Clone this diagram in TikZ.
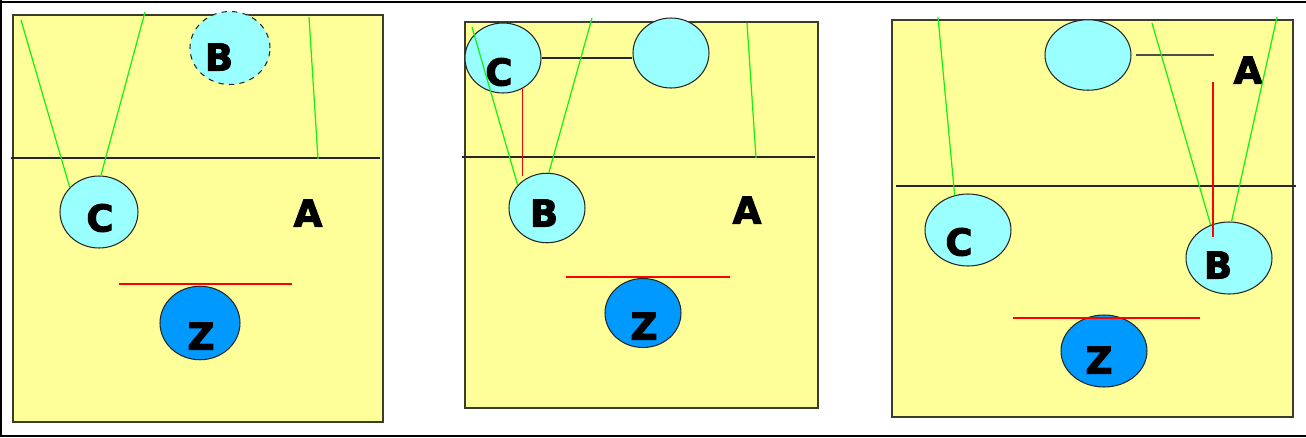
\documentclass[tikz,border=0pt]{standalone}
\usepackage{tikz}
\usepackage{fontspec}
\usetikzlibrary{shapes.geometric}
\newfontfamily\heavy[FakeBold=3]{DejaVu Sans Bold}
\definecolor{courtyellow}{RGB}{255,255,153}
\definecolor{courtedge}{RGB}{60,60,40}
\definecolor{aqua}{RGB}{153,255,255}
\definecolor{zblue}{RGB}{0,153,255}
\definecolor{sight}{RGB}{20,240,20}
\tikzset{
  court/.style={draw=courtedge,line width=1.1pt,fill=courtyellow},
  net/.style={draw=black!85,line width=0.7pt},
  player/.style={ellipse,draw=black!85,line width=0.6pt,fill=aqua,inner sep=0pt},
  blocker/.style={player,fill=zblue},
  pA/.style={minimum width=1.6cm,minimum height=1.46cm},
  pB/.style={minimum width=1.52cm,minimum height=1.4cm},
  pC/.style={minimum width=1.72cm,minimum height=1.44cm},
  tag/.style={inner sep=0pt,font=\heavy\fontsize{21}{21}\selectfont},
  sightline/.style={draw=sight,line width=0.7pt},
  blockline/.style={draw=red,line width=0.6pt},
}

\begin{document}
\begin{tikzpicture}[x=0.02cm,y=-0.02cm]
\useasboundingbox (0,0) rectangle (1306,437);

% frame
\draw[line width=1.7pt] (0,2) -- (1306,2);
\draw[line width=1.2pt] (0.6,0) -- (0.6,437);
\draw[line width=0.9pt] (0,436) -- (1306,436);

% first court:
\path[court] (13,15) rectangle (383,422);
\draw[net] (11,158) -- (380,158);
\node[player,pA,dashed] (b1) at (230,48) {};
\node[tag] (b1t) at (219,57) {B};
\node[player,pA,minimum width=1.56cm,minimum height=1.44cm] (c1) at (99,212) {};
\node[tag] (c1t) at (100,218) {C};
\node[tag] (a1t) at (308,213) {A};
\node[blocker,pA,minimum height=1.47cm] (z1) at (200,323) {};
\node[tag] (z1t) at (201,336) {Z};
\coordinate (g1a) at (21,20);
\coordinate (g1b) at (145,12);
\coordinate (g1c) at (309,17);
\coordinate (g1d) at (318,159);
\coordinate (r1a) at (119,284);
\coordinate (r1b) at (292,284);
\draw[sightline] (g1a) -- (c1.140);
\draw[sightline] (g1b) -- (c1.87);
\draw[sightline] (g1c) -- (g1d);
\draw[blockline] (r1a) -- (r1b);

% second court:
\path[court] (465,22) rectangle (818,408);
\draw[net] (462,157) -- (815,157);
\node[player,pB] (c2) at (503,58) {};
\node[tag] (c2t) at (499,72) {C};
\node[player,pB] (x2) at (671,53) {};
\node[player,pB,minimum height=1.39cm] (b2) at (547,208) {};
\node[tag] (b2t) at (544,213) {B};
\node[tag] (a2t) at (747,210) {A};
\node[blocker,pB,minimum height=1.38cm] (z2) at (643,313) {};
\node[tag] (z2t) at (644,326) {Z};
\coordinate (g2a) at (472,27);
\coordinate (g2b) at (592,18);
\coordinate (g2c) at (747,23);
\coordinate (g2d) at (756,158);
\coordinate (r2a) at (566,277);
\coordinate (r2b) at (730,277);
\draw[net] (c2.east) -- (c2.east -| x2.west);
\draw[sightline] (g2a) -- (b2.142);
\draw[sightline] (g2b) -- (b2.87);
\draw[sightline] (g2c) -- (g2d);
\draw[blockline] (c2.-57) -- ++(0,88);
\draw[blockline] (r2a) -- (r2b);

% third court:
\path[court] (892,20) rectangle (1293,417);
\draw[net] (896,186) -- (1296,186);
\node[player,pC,minimum height=1.41cm] (x3) at (1088,55) {};
\node[tag] (a3t) at (1248,70) {A};
\node[player,pC] (c3) at (968,230) {};
\node[tag] (c3t) at (959,242) {C};
\node[player,pC] (b3) at (1229,258) {};
\node[tag] (b3t) at (1218,265) {B};
\node[blocker,pC] (z3) at (1104,351) {};
\node[tag] (z3t) at (1099,360) {Z};
\coordinate (g3a) at (938,17);
\coordinate (g3b) at (1152,23);
\coordinate (g3c) at (1277,17);
\coordinate (r3a) at (1213,82);
\coordinate (r3b) at (1213,237);
\coordinate (r3c) at (1013,318);
\coordinate (r3d) at (1200,318);
\draw[draw=black!70,line width=0.8pt] ([xshift=0.09cm]x3.east) -- ++(78,0);
\draw[sightline] (g3a) -- (c3.111);
\draw[sightline] (g3b) -- (b3.119);
\draw[sightline] (g3c) -- (b3.86);
\draw[blockline] (r3a) -- (r3b);
\draw[blockline] (r3c) -- (r3d);

\end{tikzpicture}
\end{document}
